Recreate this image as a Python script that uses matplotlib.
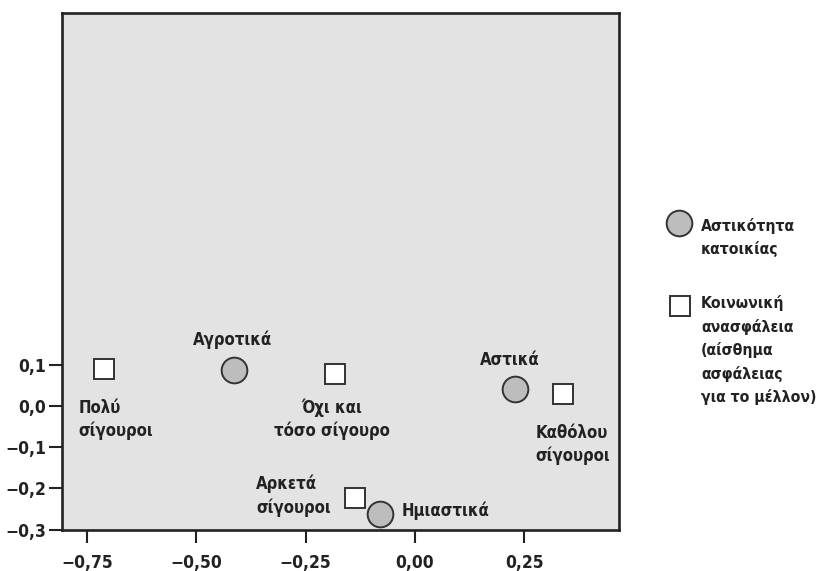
import matplotlib
matplotlib.use("Agg")
import matplotlib.pyplot as plt
from matplotlib.lines import Line2D

plt.rcParams['font.family'] = ['DejaVu Sans']
plt.rcParams['font.stretch'] = 'condensed'
plt.rcParams['font.weight'] = 'bold'

# Data
circle_labels = ["Αγροτικά", "Ημιαστικά", "Αστικά"]
circle_x = [-0.4125, -0.080, 0.229]
circle_y = [0.088, -0.262, 0.041]

square_labels = ["Πολύ\nσίγουροι", "Αρκετά\nσίγουροι", "Όχι και\nτόσο σίγουρο", "Καθόλου\nσίγουροι"]
square_x = [-0.712, -0.136, -0.182, 0.339]
square_y = [0.091, -0.223, 0.079, 0.030]

x_ticks = [-0.75, -0.50, -0.25, 0.00, 0.25]
y_ticks = [-0.3, -0.2, -0.1, 0.0, 0.1]

legend_labels = ["Αστικότητα\nκατοικίας", "Κοινωνική\nανασφάλεια\n(αίσθημα\nασφάλειας\nγια το μέλλον)"]

# label layout: (dx px, dy px to last baseline, ha, multialignment)
circle_layout = [(-2, 25, 'center', 'center'), (22, -2.4, 'left', 'left'), (-5, 24, 'center', 'center')]
square_layout = [(-25, -67.4, 'left', 'left'), (-24.3, -15, 'right', 'left'),
                 (-3, -62.4, 'center', 'center'), (-27.3, -67.4, 'left', 'left')]

W, H = 820, 571
fig = plt.figure(figsize=(W / 100, H / 100), dpi=100)
ax = fig.add_axes([62 / W, 1 - 529.5 / H, (619 - 62) / W, (529.5 - 13.3) / H])
ax.set_facecolor('#e3e3e3')
ax.set_xlim(-0.807, 0.467)
ax.set_ylim(-0.3, 0.957)

for s in ax.spines.values():
    s.set_linewidth(1.9)
    s.set_color('#222222')

ax.set_xticks(x_ticks)
ax.set_yticks(y_ticks)
ax.set_xticklabels([f"{v:.2f}".replace('.', ',').replace('-', '\u2212') for v in x_ticks])
ax.set_yticklabels([f"{v:.1f}".replace('.', ',').replace('-', '\u2212') for v in y_ticks])
ax.tick_params(direction='out', length=9.5, width=1.5, color='#222222', labelsize=12.5)
ax.tick_params(axis='x', pad=8)
ax.tick_params(axis='y', pad=2)
for t in ax.get_xticklabels() + ax.get_yticklabels():
    t.set_fontweight('bold')
    t.set_color('#222222')

ax.plot(circle_x, circle_y, 'o', ms=18.5, mfc='#bdbdbd', mec='#333333', mew=1.4, clip_on=False, zorder=3)
ax.plot(square_x, square_y, 's', ms=14, mfc='white', mec='#333333', mew=1.4, clip_on=False, zorder=3)

fs = 12
ls = 1.35
for lab, x, y, (dx, dy, ha, ma) in zip(circle_labels, circle_x, circle_y, circle_layout):
    ax.annotate(lab, (x, y), xytext=(dx, dy), textcoords='offset pixels', ha=ha, va='baseline',
                multialignment=ma, fontsize=fs, fontweight='bold', color='#222222', linespacing=ls)
for lab, x, y, (dx, dy, ha, ma) in zip(square_labels, square_x, square_y, square_layout):
    ax.annotate(lab, (x, y), xytext=(dx, dy), textcoords='offset pixels', ha=ha, va='baseline',
                multialignment=ma, fontsize=fs, fontweight='bold', color='#222222', linespacing=ls)

# Legend (manual), each line placed from its first baseline
fig.add_artist(Line2D([679 / W], [1 - 223 / H], marker='o', ms=18.5, mfc='#bdbdbd', mec='#333333',
                      mew=1.4, transform=fig.transFigure))
fig.add_artist(Line2D([680 / W], [1 - 306.3 / H], marker='s', ms=14, mfc='white', mec='#333333',
                      mew=1.4, transform=fig.transFigure))
lfs = 11.3
step = 23.5
for lab, base in zip(legend_labels, [230.7, 308.3]):
    for i, line in enumerate(lab.split('\n')):
        fig.text(701 / W, 1 - (base + i * step) / H, line, ha='left', va='baseline', fontsize=lfs,
                 fontweight='bold', color='#222222')

fig.savefig('out.png', dpi=100)
